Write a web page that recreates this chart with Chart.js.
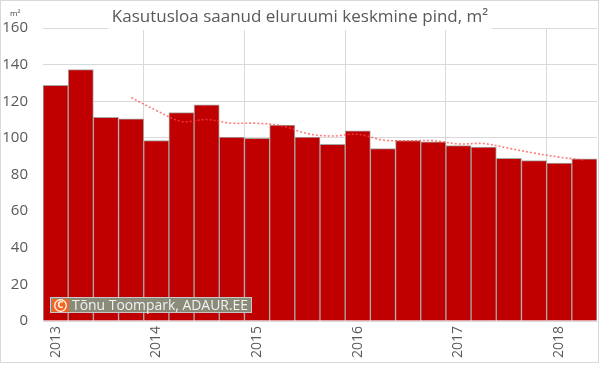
<!DOCTYPE html>
<html>
<head>
<meta charset="utf-8">
<script src="https://cdn.jsdelivr.net/npm/chart.js@4"></script>
<style>
  html, body { margin: 0; padding: 0; background: #fff; }
  canvas { display: block; }
</style>
</head>
<body>
<canvas id="chart" width="600" height="366"></canvas>
<script>
const years = ['2013', '2014', '2015', '2016', '2017', '2018'];
const quarters = ['I', 'II', 'III', 'IV'];
const quarterCount = 22;

// average floor area per quarter, m2
const areaValues = [128.7, 137.3, 111.2, 110.4, 98.5, 113.8, 118.1, 100.5, 99.8, 107.0, 100.5,
    96.5, 103.9, 94.1, 98.5, 97.8, 95.8, 95.0, 88.8, 87.6, 86.3, 88.6];
// dotted trend line
const trendValues = [null, null, null, 122, 115, 109, 110, 108, 108, 106.5, 102.3,
    101, 102, 98.8, 98.4, 98.5, 96.7, 96.9, 94.3, 91.7, 89.5, 87.9];

const yTicks = [0, 20, 40, 60, 80, 100, 120, 140, 160];

const titleText = 'Kasutusloa saanud eluruumi keskmine pind, m²';
const unitText = 'm²';
const creditText = 'Tõnu Toompark, ADAUR.EE';

const labels = [];
for (let i = 0; i < quarterCount; i++) {
    labels.push(years[Math.floor(i / 4)] + ' ' + quarters[i % 4]);
}

const textColor = '#595959';
const gridColor = '#d9d9d9';

const decorPlugin = {
    id: 'decor',
    afterDraw(chart) {
        const ctx = chart.ctx;
        ctx.save();

        // title with white backing over the top gridline
        ctx.font = '17px "Open Sans", sans-serif';
        const w = ctx.measureText(titleText).width;
        ctx.fillStyle = '#fff';
        ctx.fillRect(300 - w / 2 - 4, 4, w + 8, 26);
        ctx.fillStyle = textColor;
        ctx.textAlign = 'center';
        ctx.textBaseline = 'middle';
        ctx.fillText(titleText, 300, 17);

        // unit label
        ctx.font = '8px "Open Sans", sans-serif';
        ctx.fillStyle = '#404040';
        ctx.textAlign = 'left';
        ctx.fillText(unitText, 10, 14);

        // credit box
        ctx.fillStyle = '#8b8b7a';
        ctx.fillRect(50, 297, 202, 16);
        ctx.strokeStyle = '#c8c8c8';
        ctx.lineWidth = 1;
        ctx.strokeRect(50.5, 297.5, 201, 15);
        ctx.fillStyle = '#f26522';
        ctx.fillRect(52, 299, 17, 13);
        ctx.strokeStyle = '#fff';
        ctx.lineWidth = 1.3;
        ctx.beginPath();
        ctx.arc(60.5, 305.5, 5.8, 0, Math.PI * 2);
        ctx.stroke();
        ctx.font = 'bold 8px "DejaVu Sans", sans-serif';
        ctx.fillStyle = '#fff';
        ctx.textAlign = 'center';
        ctx.fillText('C', 60.5, 306);
        ctx.font = '14.5px "Open Sans", sans-serif';
        ctx.fillStyle = '#f2f2f2';
        ctx.textAlign = 'left';
        ctx.fillText(creditText, 72, 305.5, 176);

        // outer frame
        ctx.strokeStyle = '#d9d9d9';
        ctx.lineWidth = 1;
        ctx.strokeRect(0.5, 0.5, 598, 362);
        ctx.restore();
    }
};

new Chart(document.getElementById('chart'), {
    type: 'bar',
    data: {
        labels: labels,
        datasets: [{
            type: 'line',
            data: trendValues,
            borderColor: 'rgba(255, 70, 70, 0.7)',
            borderWidth: 1.6,
            borderDash: [2, 2],
            pointRadius: 0,
            tension: 0.35,
            spanGaps: false,
            order: 0,
        }, {
            data: areaValues,
            backgroundColor: '#c00000',
            borderColor: '#a6a6a6',
            borderWidth: 1,
            categoryPercentage: 1,
            barPercentage: 1,
            order: 1,
        }],
    },
    options: {
        responsive: false,
        animation: false,
        layout: {
            padding: { top: 28, right: 3, bottom: 0, left: 0 },
        },
        plugins: {
            legend: { display: false },
            tooltip: { enabled: false },
            title: { display: false },
        },
        scales: {
            x: {
                offset: true,
                grid: {
                    offset: true,
                    drawTicks: false,
                    color: ctx => (ctx.index > 0 && ctx.index % 4 === 0 && ctx.index < quarterCount) ? gridColor : 'rgba(0,0,0,0)',
                },
                border: { display: true, color: gridColor },
                ticks: {
                    autoSkip: false,
                    minRotation: 90,
                    maxRotation: 90,
                    padding: 5,
                    color: textColor,
                    font: { family: '"Open Sans", sans-serif', size: 14 },
                    callback: (value, index) => index % 4 === 0 ? years[index / 4] : '',
                },
                afterFit: axis => {
                    axis.height = 45;
                    axis.paddingLeft = 0;
                    axis.paddingRight = 0;
                },
            },
            y: {
                min: 0,
                max: 160,
                afterBuildTicks: axis => { axis.ticks = yTicks.map(v => ({ value: v })); },
                grid: { color: gridColor, drawTicks: false },
                border: { display: false },
                ticks: {
                    padding: 15,
                    color: textColor,
                    font: { family: '"Open Sans", sans-serif', size: 15 },
                },
                afterFit: axis => {
                    axis.width = 43;
                    axis.paddingTop = 0;
                    axis.paddingBottom = 0;
                },
            },
        },
    },
    plugins: [decorPlugin],
});
</script>
</body>
</html>
